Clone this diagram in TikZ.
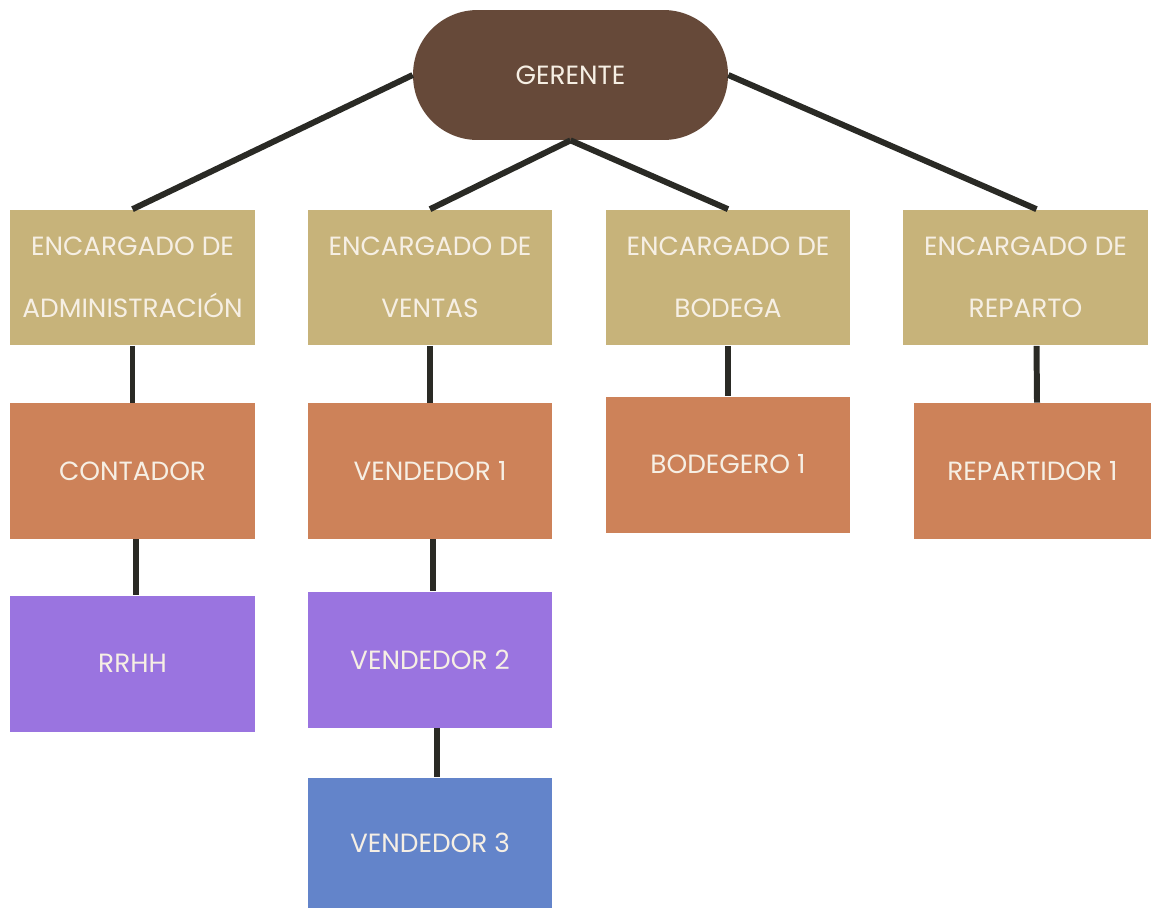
\documentclass[tikz,border=0pt]{standalone}
\usepackage{fontspec}
\setmainfont{Poppins}
\usetikzlibrary{positioning}

\definecolor{cafe}{HTML}{664939}
\definecolor{arena}{HTML}{C7B37A}
\definecolor{teja}{HTML}{CD8259}
\definecolor{lila}{HTML}{9A74E0}
\definecolor{azul}{HTML}{6384CA}
\definecolor{letra}{HTML}{F6EFE4}
\definecolor{linea}{HTML}{2A2A25}

\begin{document}
\begin{tikzpicture}[
  x=0.02cm, y=-0.02cm,
  caja/.style={minimum width=4.9cm, minimum height=2.72cm, inner sep=0pt, align=center,
    text=letra, font=\fontsize{15}{35}\selectfont},
  jefe/.style={caja, fill=cafe, rounded corners=1.29cm, minimum width=6.3cm, minimum height=2.6cm},
  enc/.style={caja, fill=arena},
  uno/.style={caja, fill=teja},
  dos/.style={caja, fill=lila},
  tres/.style={caja, fill=azul},
  enlace/.style={draw=linea, line width=3.4pt},
]
  \useasboundingbox (0,0) rectangle (1151,907);

  % Gerencia
  \node[jefe] (gerente) at (570.5,75) {GERENTE};

  % Encargados
  \node[enc] (encadmin) at (132.5,277.5) {ENCARGADO DE\\ADMINISTRACIÓN};
  \node[enc] (encventas) at (430,277.5) {ENCARGADO DE\\VENTAS};
  \node[enc] (encbodega) at (728,277.5) {ENCARGADO DE\\BODEGA};
  \node[enc] (encreparto) at (1025.5,277.5) {ENCARGADO DE\\REPARTO};

  % Primer nivel
  \node[uno] (contador) at (132.5,471) {CONTADOR};
  \node[uno] (vend1) at (430,471) {VENDEDOR 1};
  \node[uno] (bodeg1) at (728,464.5) {BODEGERO 1};
  \node[uno, minimum width=4.74cm] (repart1) at (1032.5,471) {REPARTIDOR 1};

  % Segundo y tercer nivel
  \node[dos] (rrhh) at (132.5,663.5) {RRHH};
  \node[dos] (vend2) at (430,659.5) {VENDEDOR 2};
  \node[tres, minimum height=2.6cm] (vend3) at (430,842.5) {VENDEDOR 3};

  % Conexiones
  \draw[enlace] (gerente.west) -- (encadmin.north);
  \draw[enlace] (gerente.south) -- (encventas.north);
  \draw[enlace] (gerente.south) -- (encbodega.north);
  \draw[enlace] (gerente.east) -- ([xshift=0.22cm]encreparto.north);
  \draw[enlace] (encadmin.south) -- (contador.north);
  \draw[enlace] ([xshift=0.07cm]contador.south) -- ([xshift=0.07cm]rrhh.north);
  \draw[enlace] (encventas.south) -- (vend1.north);
  \draw[enlace] ([xshift=0.06cm]vend1.south) -- ([xshift=0.06cm]vend2.north);
  \draw[enlace] ([xshift=0.14cm]vend2.south) -- ([xshift=0.14cm]vend3.north);
  \draw[enlace] (encbodega.south) -- (bodeg1.north);
  \draw[enlace] ([xshift=0.22cm]encreparto.south) -- ([xshift=0.09cm]repart1.north);
\end{tikzpicture}
\end{document}
